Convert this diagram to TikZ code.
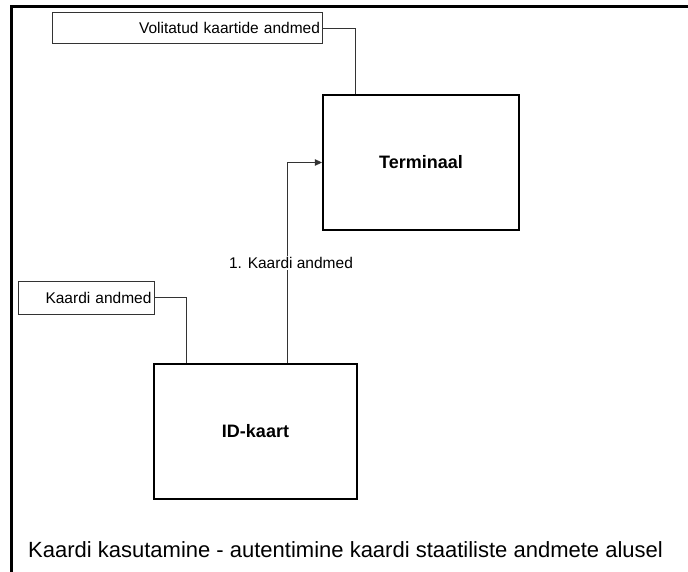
\documentclass[tikz,border=0pt]{standalone}
\usepackage{fontspec}
\setmainfont{Liberation Sans}
\usetikzlibrary{arrows.meta}
\begin{document}
\begin{tikzpicture}[x=1pt,y=-1pt,
  store/.style={draw=black!80, line width=0.9pt, inner xsep=2.5pt, inner ysep=0pt,
    align=right, font=\fontsize{15.5}{18}\selectfont},
  proc/.style={draw=black, line width=2.2pt, minimum width=196pt, minimum height=135pt,
    inner sep=0pt, font=\bfseries\fontsize{18}{21}\selectfont},
  flow/.style={draw=black!80, line width=0.9pt},
  flowlabel/.style={fill=white, inner sep=1pt, font=\fontsize{15.5}{18}\selectfont}]
  \useasboundingbox (0,0) rectangle (688,572);
  % frame edges
  \draw[line width=2.5pt] (11.5,575) -- (11.5,6.5) -- (690,6.5);
  % processes
  \node[proc] (term) at (421,162.5) {Terminaal};
  \node[proc, minimum width=203pt] (idk) at (255.5,431.5) {ID-kaart};
  % data stores
  \node[store, text width=265pt, minimum height=31.5pt] (vol) at (187.5,28) {Volitatud kaartide andmed};
  \node[store, text width=131pt, minimum height=33pt] (ka) at (86,297.5) {Kaardi andmed};
  % connectors
  \draw[flow] (vol.east) -| ([xshift=34pt]term.north west);
  \draw[flow] (ka.east) -| ([xshift=34pt]idk.north west);
  \draw[flow, -{Triangle[length=7pt,width=6.5pt]}] ([xshift=135pt]idk.north west) |- (term.west);
  \node[flowlabel] (lbl) at (291,263) {1. Kaardi andmed};
  % caption
  \node[anchor=base west, inner sep=0pt, font=\fontsize{22}{26}\selectfont] (cap) at (28,557)
    {Kaardi kasutamine - autentimine kaardi staatiliste andmete alusel};
\end{tikzpicture}
\end{document}
